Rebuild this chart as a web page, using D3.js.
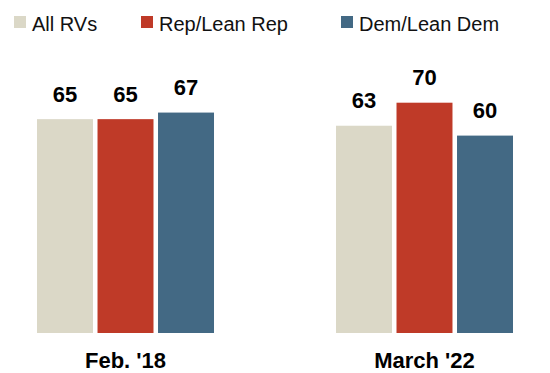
<!DOCTYPE html>
<html>
<head>
<meta charset="utf-8">
<script src="https://cdn.jsdelivr.net/npm/d3@7"></script>
<style>
  html, body { margin: 0; padding: 0; background: #fff; }
  svg { display: block; font-family: "Liberation Sans", Arial, sans-serif; }
</style>
</head>
<body>
<svg id="chart" width="550" height="373"></svg>
<script>
// Survey waves and party groups
const periods = ["Feb. '18", "March '22"];
const groups = ["All RVs", "Rep/Lean Rep", "Dem/Lean Dem"];
const groupColors = ["#dbd8c7", "#bf3a28", "#436984"];

// Percentages per group, one array per wave
const feb18 = [65, 65, 67];
const march22 = [63, 70, 60];
const waveValues = [feb18, march22];

const svg = d3.select("#chart");

const y = d3.scaleLinear().domain([0, 100]).range([333, 4]);

const x0 = d3.scaleBand()
  .domain(periods)
  .range([37, 513])
  .paddingInner(0.408)
  .paddingOuter(0);

const x1 = d3.scaleBand()
  .domain(groups)
  .range([0, x0.bandwidth()])
  .paddingInner(0.075)
  .paddingOuter(0);

const color = d3.scaleOrdinal().domain(groups).range(groupColors);

// Legend across the top
const legendX = [14, 141, 341];
const legend = svg.append("g").attr("class", "legend");
groups.forEach((g, i) => {
  const item = legend.append("g").attr("transform", `translate(${legendX[i]},0)`);
  item.append("rect")
    .attr("x", 0).attr("y", 16)
    .attr("width", 12).attr("height", 12)
    .attr("fill", color(g));
  item.append("text")
    .attr("x", 18).attr("y", 31)
    .attr("font-size", 20)
    .attr("fill", "#111")
    .text(g);
});

// Bars grouped by wave
const waves = svg.selectAll("g.wave")
  .data(periods.map((p, i) => ({ period: p, values: waveValues[i] })))
  .join("g")
  .attr("class", "wave")
  .attr("transform", d => `translate(${x0(d.period)},0)`);

const cells = waves.selectAll("g.cell")
  .data(d => groups.map((g, j) => ({ group: g, value: d.values[j] })))
  .join("g")
  .attr("class", "cell");

cells.append("rect")
  .attr("x", d => x1(d.group))
  .attr("y", d => y(d.value))
  .attr("width", x1.bandwidth())
  .attr("height", d => y(0) - y(d.value))
  .attr("fill", d => color(d.group));

cells.append("text")
  .attr("x", d => x1(d.group) + x1.bandwidth() / 2)
  .attr("y", d => y(d.value) - 17.5)
  .attr("text-anchor", "middle")
  .attr("font-size", 22)
  .attr("font-weight", "bold")
  .attr("fill", "#000")
  .text(d => d.value);

// Wave labels under each group
const xAxis = svg.append("g")
  .attr("transform", `translate(0,${y(0)})`)
  .call(d3.axisBottom(x0).tickSize(0).tickPadding(0));
xAxis.select(".domain").remove();
xAxis.selectAll("text")
  .attr("dy", null)
  .attr("y", 35)
  .attr("font-size", 22)
  .attr("font-weight", "bold")
  .attr("font-family", "\"Liberation Sans\", Arial, sans-serif")
  .attr("fill", "#000");
</script>
</body>
</html>
